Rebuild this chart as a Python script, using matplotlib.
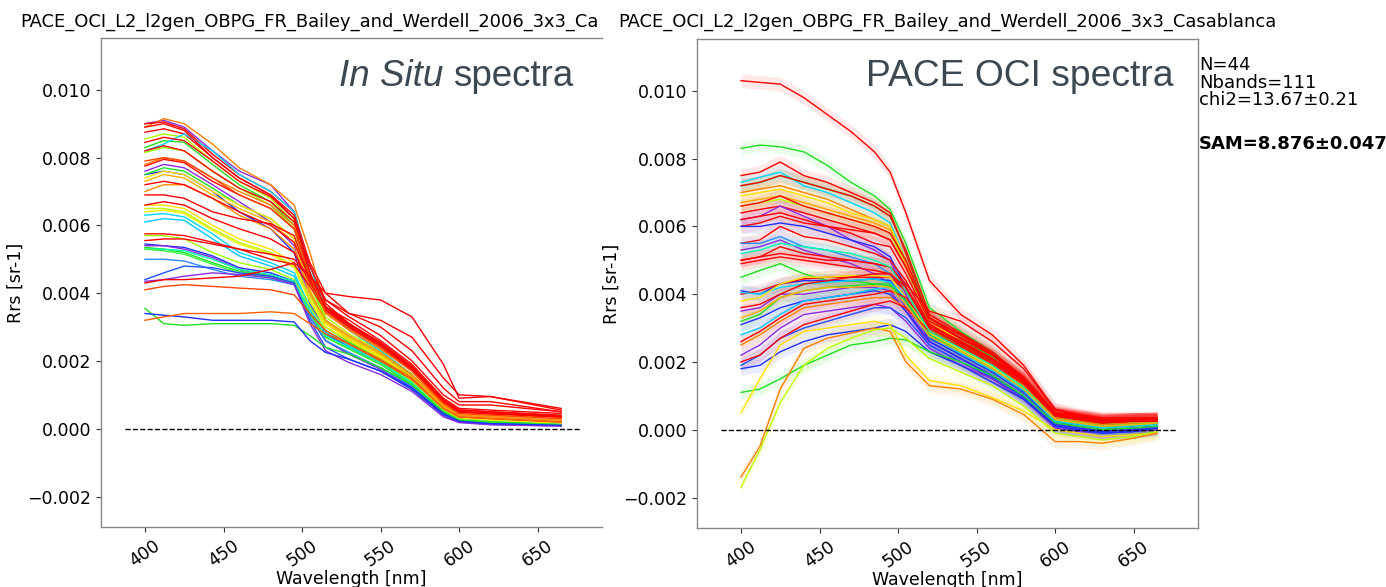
import matplotlib
matplotlib.use("Agg")
import matplotlib.pyplot as plt
import numpy as np

# ---------------- data (Rrs values in units of 1e-3 sr^-1) ----------------
wl_insitu = [400, 412, 425, 443, 460, 480, 495, 505, 515, 530, 550, 570, 590, 600, 620, 665]

insitu_rrs = [
    [9.0, 9.1, 8.9, 8.2, 7.6, 7.2, 6.4, 4.6, 3.2, 2.6, 2.1, 1.4, 0.55, 0.3, 0.2, 0.15],
    [8.9, 9.15, 9.0, 8.4, 7.7, 7.2, 6.6, 5.2, 3.6, 3.0, 2.4, 1.7, 0.75, 0.45, 0.4, 0.3],
    [9.0, 9.05, 8.85, 8.1, 7.5, 7.0, 6.4, 4.8, 3.7, 3.1, 2.5, 1.8, 0.85, 0.5, 0.45, 0.35],
    [8.75, 8.85, 8.7, 8.0, 7.4, 6.9, 6.2, 4.6, 3.6, 3.0, 2.45, 1.75, 0.8, 0.5, 0.45, 0.35],
    [8.55, 8.7, 8.6, 7.9, 7.3, 6.8, 6.1, 4.4, 3.3, 2.8, 2.3, 1.6, 0.65, 0.35, 0.25, 0.15],
    [8.3, 8.5, 8.45, 7.8, 7.2, 6.7, 6.0, 4.3, 3.2, 2.7, 2.2, 1.55, 0.6, 0.3, 0.25, 0.15],
    [8.2, 8.4, 8.7, 8.2, 7.5, 7.0, 6.4, 4.8, 3.5, 2.9, 2.3, 1.6, 0.6, 0.3, 0.25, 0.2],
    [8.15, 8.3, 8.2, 7.6, 7.1, 6.6, 5.9, 4.3, 3.2, 2.7, 2.2, 1.5, 0.6, 0.3, 0.22, 0.15],
    [7.8, 8.0, 7.9, 7.4, 7.0, 6.6, 6.0, 4.5, 3.4, 2.9, 2.35, 1.7, 0.7, 0.4, 0.35, 0.25],
    [7.75, 7.95, 7.85, 7.3, 6.9, 6.5, 5.9, 4.6, 3.5, 3.0, 2.45, 1.75, 0.8, 0.5, 0.45, 0.35],
    [7.6, 7.8, 7.7, 7.2, 6.7, 6.1, 5.4, 3.8, 2.8, 2.4, 1.9, 1.3, 0.45, 0.2, 0.15, 0.1],
    [7.5, 7.6, 7.5, 7.0, 6.4, 5.9, 5.2, 3.7, 2.8, 2.4, 1.95, 1.35, 0.5, 0.25, 0.2, 0.15],
    [7.5, 7.7, 7.6, 7.1, 6.6, 6.2, 5.6, 4.0, 3.0, 2.55, 2.05, 1.45, 0.55, 0.3, 0.2, 0.15],
    [7.4, 7.6, 7.5, 7.0, 6.6, 6.2, 5.6, 4.1, 3.1, 2.65, 2.15, 1.5, 0.6, 0.35, 0.25, 0.15],
    [7.3, 7.5, 7.4, 6.9, 6.5, 6.1, 5.5, 4.1, 3.15, 2.7, 2.2, 1.55, 0.65, 0.35, 0.3, 0.2],
    [7.0, 7.2, 7.2, 6.8, 6.3, 5.9, 5.3, 4.0, 3.2, 2.75, 2.25, 1.6, 0.7, 0.4, 0.35, 0.25],
    [6.9, 6.9, 6.8, 6.4, 6.2, 6.05, 5.7, 4.4, 3.6, 3.1, 2.5, 1.8, 0.8, 0.5, 0.45, 0.35],
    [6.6, 6.6, 6.5, 6.0, 5.6, 5.3, 4.9, 3.9, 3.1, 2.65, 2.15, 1.5, 0.6, 0.35, 0.25, 0.15],
    [6.5, 6.5, 6.4, 5.9, 5.5, 5.2, 4.8, 3.8, 3.0, 2.6, 2.1, 1.5, 0.6, 0.3, 0.22, 0.12],
    [6.4, 6.45, 6.35, 5.85, 5.45, 5.15, 4.75, 3.75, 3.0, 2.6, 2.1, 1.45, 0.55, 0.3, 0.2, 0.12],
    [6.3, 6.35, 6.25, 5.75, 5.2, 4.9, 4.6, 3.6, 2.9, 2.5, 2.0, 1.4, 0.5, 0.28, 0.2, 0.12],
    [6.1, 6.2, 6.15, 5.6, 5.1, 4.8, 4.5, 3.5, 2.85, 2.45, 1.95, 1.35, 0.5, 0.25, 0.2, 0.12],
    [5.75, 5.75, 5.7, 5.5, 5.3, 5.0, 4.85, 4.2, 3.5, 3.0, 2.45, 1.75, 0.8, 0.5, 0.45, 0.35],
    [5.7, 5.7, 5.6, 5.2, 4.9, 4.7, 4.4, 3.6, 2.9, 2.5, 2.0, 1.4, 0.55, 0.28, 0.2, 0.12],
    [5.45, 5.4, 5.35, 5.1, 4.75, 4.6, 4.35, 3.3, 2.6, 2.2, 1.8, 1.25, 0.45, 0.22, 0.15, 0.1],
    [5.4, 5.4, 5.3, 5.05, 4.7, 4.5, 4.3, 3.3, 2.6, 2.2, 1.75, 1.2, 0.4, 0.2, 0.12, 0.08],
    [5.35, 5.3, 5.2, 4.9, 4.65, 4.5, 4.3, 3.4, 2.7, 2.35, 1.9, 1.3, 0.5, 0.25, 0.18, 0.1],
    [5.3, 5.3, 5.25, 5.0, 4.7, 4.55, 4.35, 3.45, 2.75, 2.4, 1.95, 1.35, 0.5, 0.25, 0.18, 0.1],
    [5.3, 5.25, 5.15, 4.85, 4.6, 4.45, 4.25, 3.4, 2.7, 2.35, 1.9, 1.3, 0.5, 0.25, 0.18, 0.1],
    [5.0, 5.0, 4.95, 4.7, 4.5, 4.4, 4.25, 3.3, 2.6, 2.25, 1.8, 1.25, 0.45, 0.22, 0.15, 0.1],
    [4.4, 4.6, 4.8, 4.75, 4.6, 4.5, 4.3, 3.2, 2.4, 2.05, 1.7, 1.15, 0.4, 0.2, 0.15, 0.1],
    [4.35, 4.4, 4.5, 4.6, 4.55, 4.45, 4.25, 3.1, 2.3, 1.95, 1.6, 1.1, 0.35, 0.18, 0.12, 0.08],
    [4.3, 4.4, 4.4, 4.45, 4.5, 4.7, 4.9, 4.5, 4.0, 3.9, 3.8, 3.3, 1.9, 0.9, 0.95, 0.6],
    [4.1, 4.2, 4.25, 4.2, 4.15, 4.1, 3.95, 3.4, 2.9, 2.5, 2.0, 1.45, 0.6, 0.35, 0.3, 0.2],
    [3.55, 3.1, 3.05, 3.1, 3.1, 3.1, 3.05, 2.75, 2.4, 2.2, 1.8, 1.3, 0.5, 0.25, 0.2, 0.12],
    [3.4, 3.35, 3.3, 3.2, 3.2, 3.2, 3.15, 2.6, 2.25, 2.05, 1.7, 1.2, 0.45, 0.22, 0.15, 0.1],
    [3.2, 3.3, 3.4, 3.4, 3.4, 3.45, 3.4, 3.1, 2.8, 2.5, 2.05, 1.5, 0.6, 0.35, 0.3, 0.2],
    [8.9, 9.0, 8.8, 8.0, 7.4, 6.9, 6.3, 4.9, 4.0, 3.4, 3.0, 2.3, 1.2, 0.8, 0.8, 0.5],
    [6.6, 6.7, 6.6, 6.2, 5.9, 5.6, 5.2, 4.3, 3.6, 3.2, 2.6, 1.9, 0.9, 0.6, 0.55, 0.45],
    [8.2, 8.35, 8.2, 7.6, 7.1, 6.7, 6.1, 4.8, 3.8, 3.3, 2.75, 2.0, 1.0, 0.7, 0.7, 0.5],
    [7.2, 7.3, 7.2, 6.8, 6.4, 6.0, 5.5, 4.4, 3.6, 3.1, 2.55, 1.85, 0.85, 0.55, 0.5, 0.4],
    [8.45, 8.6, 8.5, 7.9, 7.3, 6.85, 6.2, 4.6, 3.55, 3.05, 2.5, 1.8, 0.85, 0.55, 0.5, 0.38],
    [7.9, 8.0, 7.9, 7.4, 6.9, 6.5, 5.9, 4.5, 3.45, 2.95, 2.4, 1.7, 0.75, 0.45, 0.4, 0.3],
    [5.55, 5.6, 5.6, 5.45, 5.3, 5.15, 5.0, 4.5, 3.8, 3.4, 3.2, 2.7, 1.5, 1.0, 0.95, 0.55],
]

insitu_colors = [
    "#8b2be2", "#ff8000", "#ff0000", "#ff0000", "#b0ff00", "#20e020", "#00d5ff", "#90ff00",
    "#ff8000", "#ff0000", "#8b2be2", "#2030ff", "#20e020", "#ffe000", "#ffb000", "#ff9000",
    "#ff0000", "#ffe000", "#c0ff00", "#f0f000", "#00d5ff", "#00c8ff", "#ff0000", "#a0ff00",
    "#2030ff", "#8b2be2", "#20e020", "#00ffaa", "#40f040", "#2a8cff", "#2050ff", "#8b2be2",
    "#ff0000", "#ff4500", "#20e020", "#2030ff", "#ff6000", "#ff0000", "#ff0000", "#ff0000",
    "#ff0000", "#ff0000", "#ff4500", "#ff0000",
]

wl_pace = [400, 412, 425, 440, 455, 470, 485, 495, 505, 520, 540, 560, 580, 600, 615, 630, 650, 665]

pace_rrs = [
    [10.3, 10.25, 10.2, 9.8, 9.3, 8.8, 8.2, 7.6, 6.4, 4.4, 3.4, 2.8, 1.9, 0.6, 0.4, 0.3, 0.3, 0.3],
    [8.3, 8.4, 8.35, 8.2, 7.8, 7.3, 6.9, 6.5, 5.5, 3.6, 2.9, 2.3, 1.5, 0.4, 0.3, 0.2, 0.2, 0.2],
    [7.5, 7.6, 7.9, 7.5, 7.3, 7.0, 6.7, 6.4, 5.2, 3.3, 2.8, 2.2, 1.5, 0.45, 0.35, 0.25, 0.3, 0.3],
    [7.3, 7.45, 7.6, 7.2, 7.0, 6.7, 6.4, 6.1, 5.0, 3.1, 2.5, 2.0, 1.3, 0.3, 0.2, 0.1, 0.15, 0.2],
    [7.2, 7.3, 7.5, 7.3, 7.1, 6.9, 6.6, 6.3, 5.3, 3.3, 2.7, 2.15, 1.4, 0.35, 0.25, 0.15, 0.2, 0.2],
    [7.0, 7.1, 7.2, 7.0, 6.8, 6.5, 6.2, 6.0, 4.9, 3.2, 2.6, 2.1, 1.4, 0.35, 0.25, 0.15, 0.2, 0.2],
    [6.9, 7.0, 7.1, 6.9, 6.7, 6.4, 6.2, 6.0, 5.0, 3.2, 2.6, 2.05, 1.35, 0.3, 0.2, 0.1, 0.15, 0.15],
    [6.7, 6.8, 6.9, 6.7, 6.5, 6.3, 6.1, 5.9, 4.9, 3.1, 2.55, 2.0, 1.3, 0.3, 0.2, 0.1, 0.15, 0.15],
    [6.6, 6.7, 6.8, 6.6, 6.4, 6.2, 6.0, 5.8, 4.8, 3.1, 2.5, 2.0, 1.3, 0.3, 0.2, 0.1, 0.15, 0.15],
    [6.6, 6.7, 6.9, 6.6, 6.4, 6.2, 6.0, 5.8, 5.0, 3.3, 2.7, 2.2, 1.5, 0.45, 0.35, 0.25, 0.3, 0.3],
    [6.4, 6.5, 6.6, 6.4, 6.2, 6.0, 5.8, 5.6, 4.8, 3.3, 2.7, 2.2, 1.5, 0.5, 0.35, 0.25, 0.3, 0.3],
    [6.2, 6.3, 6.6, 6.3, 6.0, 5.6, 5.3, 5.0, 4.0, 2.6, 2.1, 1.6, 1.0, 0.2, 0.1, 0.0, 0.05, 0.1],
    [6.0, 6.1, 6.3, 6.1, 6.0, 5.9, 5.8, 5.6, 4.8, 3.3, 2.8, 2.25, 1.55, 0.5, 0.4, 0.3, 0.3, 0.3],
    [6.0, 6.0, 6.1, 6.0, 5.8, 5.6, 5.4, 5.1, 4.2, 2.8, 2.3, 1.8, 1.15, 0.2, 0.15, 0.05, 0.1, 0.1],
    [5.5, 5.6, 6.0, 5.7, 5.6, 5.4, 5.2, 5.0, 4.4, 3.1, 2.6, 2.1, 1.45, 0.45, 0.35, 0.25, 0.3, 0.3],
    [5.5, 5.5, 5.7, 5.4, 5.3, 5.1, 4.9, 4.6, 3.9, 2.8, 2.3, 1.8, 1.2, 0.25, 0.15, 0.05, 0.1, 0.15],
    [5.3, 5.4, 5.6, 5.3, 5.1, 4.9, 4.6, 4.3, 3.6, 2.6, 2.1, 1.6, 1.0, 0.15, 0.05, -0.05, 0.0, 0.05],
    [5.0, 5.1, 5.4, 5.2, 5.1, 5.0, 4.9, 4.8, 4.2, 3.0, 2.55, 2.05, 1.4, 0.4, 0.3, 0.2, 0.25, 0.25],
    [4.9, 5.0, 5.1, 5.0, 4.9, 4.8, 4.7, 4.6, 4.1, 3.05, 2.6, 2.1, 1.45, 0.45, 0.35, 0.25, 0.3, 0.3],
    [4.5, 4.7, 4.9, 4.6, 4.4, 4.4, 4.3, 4.3, 3.8, 2.9, 2.5, 2.0, 1.3, 0.35, 0.25, 0.15, 0.2, 0.2],
    [4.1, 4.0, 4.3, 4.4, 4.4, 4.4, 4.45, 4.4, 3.8, 2.7, 2.2, 1.7, 1.1, 0.2, 0.1, 0.0, 0.05, 0.1],
    [4.0, 4.1, 4.3, 4.45, 4.5, 4.5, 4.5, 4.5, 4.1, 3.0, 2.5, 2.0, 1.4, 0.45, 0.3, 0.2, 0.25, 0.3],
    [4.05, 4.0, 4.2, 4.3, 4.35, 4.4, 4.45, 4.35, 3.9, 2.8, 2.3, 1.8, 1.2, 0.25, 0.15, 0.05, 0.1, 0.15],
    [3.8, 3.9, 4.3, 4.5, 4.5, 4.55, 4.55, 4.5, 3.9, 2.85, 2.35, 1.85, 1.2, 0.3, 0.15, 0.05, 0.1, 0.15],
    [3.5, 3.6, 4.0, 4.0, 4.1, 4.2, 4.2, 4.1, 3.5, 2.5, 2.0, 1.5, 0.9, 0.1, 0.0, -0.1, -0.05, 0.05],
    [3.2, 3.4, 3.9, 4.1, 4.2, 4.25, 4.3, 4.25, 3.8, 2.8, 2.3, 1.8, 1.2, 0.3, 0.2, 0.1, 0.15, 0.2],
    [3.1, 3.3, 3.6, 3.8, 3.9, 4.0, 4.1, 4.0, 3.5, 2.6, 2.1, 1.6, 1.0, 0.15, 0.05, -0.05, 0.0, 0.05],
    [2.8, 3.0, 3.4, 3.8, 3.9, 4.0, 4.15, 4.2, 3.7, 2.75, 2.25, 1.75, 1.15, 0.25, 0.15, 0.05, 0.1, 0.15],
    [2.6, 2.9, 3.3, 3.7, 3.8, 3.9, 4.0, 4.1, 3.9, 3.0, 2.55, 2.05, 1.45, 0.45, 0.35, 0.25, 0.3, 0.3],
    [2.5, 2.8, 3.2, 3.6, 3.7, 3.8, 3.9, 3.9, 3.6, 2.9, 2.45, 1.95, 1.3, 0.35, 0.25, 0.15, 0.2, 0.2],
    [2.2, 2.5, 3.0, 3.4, 3.5, 3.6, 3.7, 3.6, 3.2, 2.4, 1.9, 1.5, 0.9, 0.05, -0.05, -0.1, -0.05, 0.0],
    [1.9, 2.2, 2.7, 3.0, 3.2, 3.4, 3.6, 3.6, 3.3, 2.5, 2.0, 1.55, 0.95, 0.1, 0.0, -0.1, -0.05, 0.05],
    [2.0, 2.2, 2.7, 3.1, 3.3, 3.5, 3.7, 3.8, 3.6, 2.9, 2.45, 1.95, 1.35, 0.4, 0.3, 0.2, 0.25, 0.3],
    [1.8, 1.9, 2.3, 2.6, 2.8, 2.9, 3.0, 3.1, 2.9, 2.3, 1.9, 1.4, 0.9, 0.1, 0.0, -0.1, -0.05, 0.05],
    [1.1, 1.2, 1.5, 1.9, 2.2, 2.5, 2.6, 2.7, 2.65, 2.3, 2.0, 1.6, 1.0, 0.2, 0.1, 0.0, 0.05, 0.1],
    [0.5, 1.5, 2.5, 2.9, 3.0, 3.1, 3.2, 3.1, 2.2, 1.45, 1.3, 0.95, 0.55, 0.0, -0.1, -0.2, -0.15, -0.1],
    [-1.4, -0.5, 1.2, 2.4, 2.7, 2.85, 3.0, 2.9, 2.0, 1.3, 1.2, 0.9, 0.45, -0.35, -0.35, -0.4, -0.25, -0.1],
    [-1.7, -0.6, 0.8, 1.9, 2.4, 2.7, 2.95, 3.0, 2.7, 2.1, 1.7, 1.3, 0.7, -0.1, -0.2, -0.3, -0.2, -0.05],
    [7.2, 7.3, 7.5, 7.3, 7.1, 6.9, 6.6, 6.3, 5.3, 3.4, 2.85, 2.3, 1.55, 0.5, 0.4, 0.3, 0.3, 0.3],
    [6.2, 6.3, 6.4, 6.2, 6.0, 5.8, 5.5, 5.4, 4.6, 3.2, 2.7, 2.2, 1.5, 0.45, 0.35, 0.25, 0.3, 0.3],
    [5.0, 5.1, 5.2, 5.1, 5.0, 5.0, 4.9, 4.8, 4.3, 3.5, 3.2, 2.6, 1.8, 0.6, 0.45, 0.35, 0.35, 0.35],
    [5.2, 5.3, 5.5, 5.4, 5.3, 5.2, 5.0, 4.8, 4.1, 2.9, 2.4, 1.9, 1.25, 0.3, 0.2, 0.1, 0.15, 0.2],
    [3.3, 3.5, 3.9, 4.1, 4.2, 4.2, 4.25, 4.2, 3.7, 2.75, 2.3, 1.8, 1.2, 0.3, 0.2, 0.1, 0.15, 0.2],
    [3.6, 3.7, 4.0, 4.3, 4.4, 4.5, 4.6, 4.6, 4.2, 3.1, 2.6, 2.1, 1.5, 0.5, 0.4, 0.3, 0.3, 0.35],
]

pace_colors = [
    "#ff0000", "#20e020", "#ff0000", "#00d5ff", "#20e020", "#ff8000", "#ffe000", "#ffa000",
    "#b0ff00", "#ff0000", "#ff0000", "#8b2be2", "#ff0000", "#2030ff", "#ff0000", "#2a8cff",
    "#8b2be2", "#ff0000", "#ff0000", "#20e020", "#2030ff", "#ff0000", "#00d5ff", "#ffe000",
    "#8b2be2", "#20e020", "#2030ff", "#00c8ff", "#ff0000", "#ff8000", "#8b2be2", "#2050ff",
    "#ff0000", "#2030ff", "#20e020", "#ffe000", "#ff8000", "#c0ff00", "#ff0000", "#ff0000",
    "#ff0000", "#00ffaa", "#ffb000", "#ff0000",
]

pace_unc = 0.2  # typical 1-sigma band half-width, 1e-3 sr^-1

title_full = "PACE_OCI_L2_l2gen_OBPG_FR_Bailey_and_Werdell_2006_3x3_Casablanca"
title_left_visible = "PACE_OCI_L2_l2gen_OBPG_FR_Bailey_and_Werdell_2006_3x3_Ca"
stats_lines = ["N=44", "Nbands=111", "chi2=13.67\u00b10.21"]
sam_line = "SAM=8.876\u00b10.047"

# ---------------- figure ----------------
W, H = 1386, 587
fig = plt.figure(figsize=(W / 100, H / 100), dpi=100)
fig.patch.set_facecolor("white")

def px_axes(x0, x1, top, bottom):
    return fig.add_axes([x0 / W, (H - bottom) / H, (x1 - x0) / W, (bottom - top) / H])

ax1 = px_axes(101, 602, 38, 527)
ax2 = px_axes(697, 1198, 39, 528)

SCALE = 1e-3
for ax in (ax1, ax2):
    ax.set_xlim(372, 691)
    ax.set_ylim(-0.0029, 0.01153)
    ax.set_xticks([400, 450, 500, 550, 600, 650])
    ax.set_yticks([-0.002, 0.0, 0.002, 0.004, 0.006, 0.008, 0.010])
    ax.tick_params(axis="both", labelsize=12.5, length=3.5, width=0.8, color="#333333")
    for lab in ax.get_xticklabels():
        lab.set_rotation(35)
    for sp in ax.spines.values():
        sp.set_color("#888888")
        sp.set_linewidth(1.0)
    ax.set_ylabel("Rrs [sr-1]", fontsize=12.5, labelpad=2)
    ax.set_xlabel("Wavelength [nm]", fontsize=12.5, labelpad=0)
    ax.hlines(0.0, 387, 677, colors="black", linestyles="--", linewidth=1.0, zorder=5)

ax1.spines["right"].set_visible(False)

wl_i = np.array(wl_insitu)
for spec, col in zip(insitu_rrs, insitu_colors):
    ax1.plot(wl_i, np.array(spec) * SCALE, color=col, lw=1.0, zorder=3)

wl_p = np.array(wl_pace)
for spec, col in zip(pace_rrs, pace_colors):
    y = np.array(spec) * SCALE
    ax2.fill_between(wl_p, y - pace_unc * SCALE, y + pace_unc * SCALE, color=col, alpha=0.09, lw=0, zorder=2)
    ax2.plot(wl_p, y, color=col, lw=1.0, zorder=3)

ax2.set_title(title_full, fontsize=12.9, pad=8.5)
fig.text(20 / W, 1 - 27 / H, title_left_visible, fontsize=12.9, ha="left", va="baseline")

# overlay headings
overlay_color = "#3c4852"
t_sp = fig.text(573 / W, 1 - 86 / H, "spectra", fontsize=26.5, family="Liberation Sans",
                color=overlay_color, ha="right", va="baseline")
fig.canvas.draw()
bb = t_sp.get_window_extent()
fig.text((bb.x0 - 9) / W, 1 - 86 / H, "In Situ", fontsize=26.5, family="Liberation Sans",
         style="italic", color=overlay_color, ha="right", va="baseline")
fig.text(1173 / W, 1 - 86 / H, "PACE OCI spectra", fontsize=26.8, family="Liberation Sans",
         color=overlay_color, ha="right", va="baseline")

# stats text
fig.text(1199 / W, 1 - 56 / H, "\n".join(stats_lines), fontsize=13, ha="left", va="top",
         linespacing=0.97)
fig.text(1199 / W, 1 - 149 / H, sam_line, fontsize=13, fontweight="bold", ha="left", va="baseline")

fig.savefig("out.png", dpi=100)
